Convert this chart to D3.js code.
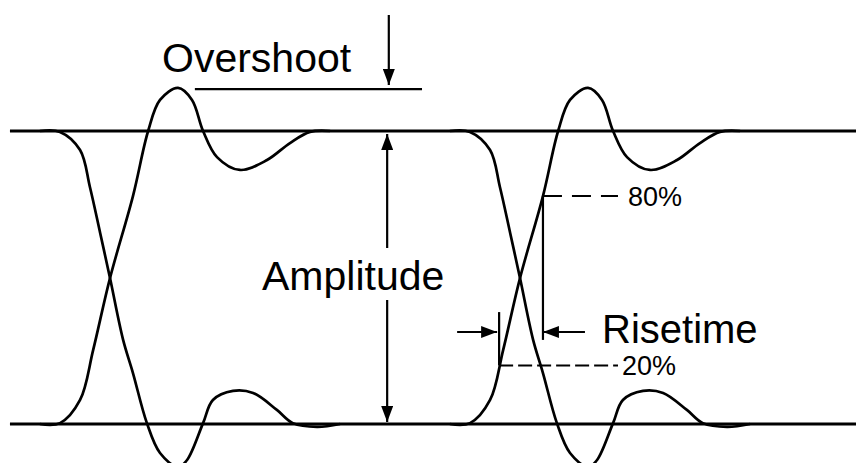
<!doctype html>
<html>
<head>
    <script src="https://d3js.org/d3.v7.min.js"></script>
    <meta charset="utf-8">
    <style>
        body { margin: 0; background-color: white; }
        text { font-family: "Liberation Sans", Arial, Helvetica, sans-serif; fill: black; }
    </style>
</head>
<body>
<div id="my_dataviz"></div>
<script>

// rising edge of one transition (time in unit intervals from the crossing, level 0..1)
var riseT = [-0.171, -0.122, -0.073, -0.041, 0, 0.056, 0.093, 0.122, 0.166, 0.2, 0.227, 0.261, 0.317, 0.383, 0.439, 0.488, 0.537]
var riseV = [0, 0.003, 0.082, 0.253, 0.498, 0.778, 1.0, 1.106, 1.147, 1.106, 1.0, 0.911, 0.867, 0.901, 0.959, 0.997, 1.0]

// falling edge
var fallT = [-0.171, -0.122, -0.073, -0.049, -0.024, 0, 0.032, 0.056, 0.09, 0.122, 0.166, 0.188, 0.227, 0.251, 0.3, 0.349, 0.407, 0.446, 0.505, 0.561]
var fallV = [1, 0.997, 0.935, 0.809, 0.652, 0.498, 0.287, 0.174, 0.003, -0.099, -0.147, -0.123, 0.003, 0.082, 0.113, 0.106, 0.048, 0.003, -0.01, 0]

// the two eyes, start of each unit interval
var eyes = [0, 1]

// rise time measurement levels and labels
var riseLevels = [0.2, 0.778]
var riseLabels = ["20%", "80%"]
var riseDash = ["14,5", "19,10"]

// overshoot level
var overshootLevel = 1.143

var width = 856
    height = 463

var svg = d3.select("#my_dataviz")
  .append("svg")
    .attr("width", width)
    .attr("height", height)

// one unit interval = 410px, level 0..1 = bottom..top rail
var x = d3.scaleLinear().domain([0, 1]).range([110, 520])
var y = d3.scaleLinear().domain([0, 1]).range([424, 131])

var defs = svg.append("defs")
defs.append("marker")
    .attr("id", "head")
    .attr("viewBox", "0 0 16 12")
    .attr("refX", 16)
    .attr("refY", 6)
    .attr("markerWidth", 16)
    .attr("markerHeight", 12)
    .attr("markerUnits", "userSpaceOnUse")
    .attr("orient", "auto")
  .append("path")
    .attr("d", "M0,0 L16,6 L0,12 Z")
    .attr("fill", "black")

// rails
svg.selectAll(".rail")
  .data([0, 1])
  .enter()
  .append("line")
    .attr("x1", x(-0.244))
    .attr("x2", width)
    .attr("y1", function(d) { return y(d) })
    .attr("y2", function(d) { return y(d) })
    .attr("stroke", "black")
    .attr("stroke-width", 3)

// waveforms
var line = d3.line()
  .x(function(d) { return x(d[0]) })
  .y(function(d) { return y(d[1]) })
  .curve(d3.curveCatmullRom.alpha(0.5))

var rise = riseT.map(function(t, i) { return [t, riseV[i]] })
var fall = fallT.map(function(t, i) { return [t, fallV[i]] })

eyes.forEach(function(e) {
  [rise, fall].forEach(function(edge) {
    svg.append("path")
      .datum(edge.map(function(p) { return [p[0] + e, p[1]] }))
      .attr("d", line)
      .attr("fill", "none")
      .attr("stroke", "black")
      .attr("stroke-width", 2.7)
  })
})

// overshoot
svg.append("line")
    .attr("x1", x(0.207)).attr("x2", x(0.761))
    .attr("y1", y(overshootLevel)).attr("y2", y(overshootLevel))
    .attr("stroke", "black").attr("stroke-width", 2.2)
svg.append("line")
    .attr("x1", x(0.68)).attr("x2", x(0.68))
    .attr("y1", y(1.396)).attr("y2", y(1.157))
    .attr("stroke", "black").attr("stroke-width", 2.2)
    .attr("marker-end", "url(#head)")
svg.append("text")
    .attr("x", 162).attr("y", 72)
    .style("font-size", "41px")
    .text("Overshoot")

// amplitude arrows, broken around the label
svg.append("line")
    .attr("x1", x(0.676)).attr("x2", x(0.676))
    .attr("y1", 248).attr("y2", y(1) + 3)
    .attr("stroke", "black").attr("stroke-width", 2.2)
    .attr("marker-end", "url(#head)")
svg.append("line")
    .attr("x1", x(0.676)).attr("x2", x(0.676))
    .attr("y1", 300).attr("y2", y(0) - 2)
    .attr("stroke", "black").attr("stroke-width", 2.2)
    .attr("marker-end", "url(#head)")
svg.append("text")
    .attr("x", 262).attr("y", 290)
    .style("font-size", "41px")
    .text("Amplitude")

// find where the rising edge of the second eye crosses a level
function riseAt(level) {
  for (var i = 1; i < riseV.length; i++) {
    if (riseV[i] >= level) {
      var f = (level - riseV[i - 1]) / (riseV[i] - riseV[i - 1])
      return 1 + riseT[i - 1] + f * (riseT[i] - riseT[i - 1])
    }
  }
}

var t20 = riseAt(riseLevels[0])
var t80 = riseAt(riseLevels[1])
var arrowY = y(0.314)

// verticals at the 20% and 80% points
svg.append("line")
    .attr("x1", x(t20)).attr("x2", x(t20))
    .attr("y1", y(0.382)).attr("y2", y(riseLevels[0]))
    .attr("stroke", "black").attr("stroke-width", 2.2)
svg.append("line")
    .attr("x1", x(t80)).attr("x2", x(t80))
    .attr("y1", y(riseLevels[1])).attr("y2", y(0.287))
    .attr("stroke", "black").attr("stroke-width", 2.2)

// dashed level lines and labels
riseLevels.forEach(function(level, i) {
  var t = i == 0 ? t20 : t80
  svg.append("line")
    .attr("x1", x(t)).attr("x2", x(1.239))
    .attr("y1", y(level)).attr("y2", y(level))
    .attr("stroke", "black").attr("stroke-width", 2)
    .attr("stroke-dasharray", riseDash[i])
  svg.append("text")
    .attr("x", i == 0 ? 622 : 628)
    .attr("y", y(level) + 10)
    .style("font-size", "27px")
    .text(riseLabels[i])
})

// risetime arrows
svg.append("line")
    .attr("x1", x(t20) - 42).attr("x2", x(t20) - 2)
    .attr("y1", arrowY).attr("y2", arrowY)
    .attr("stroke", "black").attr("stroke-width", 2.2)
    .attr("marker-end", "url(#head)")
svg.append("line")
    .attr("x1", x(t80) + 42).attr("x2", x(t80))
    .attr("y1", arrowY).attr("y2", arrowY)
    .attr("stroke", "black").attr("stroke-width", 2.2)
    .attr("marker-end", "url(#head)")
svg.append("text")
    .attr("x", 602).attr("y", 343)
    .style("font-size", "40px")
    .text("Risetime")

</script>
</body>
</html>
